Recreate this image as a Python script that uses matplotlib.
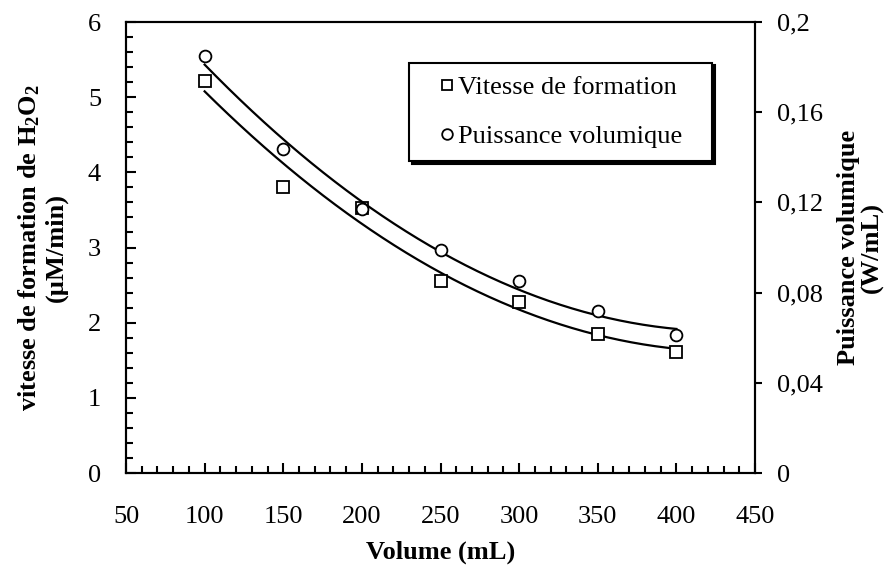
import numpy as np
import matplotlib.pyplot as plt
from matplotlib.ticker import MultipleLocator, FuncFormatter
from matplotlib.legend_handler import HandlerLine2D
from matplotlib.lines import Line2D

plt.rcParams['font.family'] = 'Liberation Serif'
plt.rcParams['mathtext.fontset'] = 'custom'
plt.rcParams['mathtext.rm'] = 'Liberation Serif'
plt.rcParams['mathtext.bf'] = 'Liberation Serif:bold'

# data
volume = [100, 150, 200, 250, 300, 350, 400]
vitesse = [5.22, 3.80, 3.53, 2.55, 2.28, 1.85, 1.61]          # µM/min (left axis)
puissance = [0.185, 0.1435, 0.117, 0.099, 0.085, 0.072, 0.061]  # W/mL (right axis)

fig = plt.figure(figsize=(8.93, 5.66), dpi=100)
ax = fig.add_axes([0.1411, 0.1643, 0.7044, 0.7968])
ax2 = ax.twinx()

# second order trend lines (like the spreadsheet ones)
xs = np.linspace(min(volume), max(volume), 200)
fit1 = np.polyfit(volume, vitesse, 2)
fit2 = np.polyfit(volume, puissance, 2)
ax.plot(xs, np.polyval(fit1, xs), color='black', lw=1.6)
ax2.plot(xs, np.polyval(fit2, xs), color='black', lw=1.6)

h1, = ax.plot(volume, vitesse, 's', ms=8.5, mfc='white', mec='black', mew=1.3, ls='none',
              label='Vitesse de formation')
h2, = ax2.plot(volume, puissance, 'o', ms=8.5, mfc='white', mec='black', mew=1.3, ls='none',
               label='Puissance volumique')

ax.set_xlim(50, 450)
ax.set_ylim(0, 6)
ax2.set_ylim(0, 0.2)

ax.xaxis.set_major_locator(MultipleLocator(50))
ax.xaxis.set_minor_locator(MultipleLocator(10))
ax.yaxis.set_major_locator(MultipleLocator(1))
ax.yaxis.set_minor_locator(MultipleLocator(0.2))
ax2.yaxis.set_major_locator(MultipleLocator(0.04))
ax2.yaxis.set_major_formatter(FuncFormatter(lambda v, p: ('%g' % round(v, 2)).replace('.', ',')))

fs = 19
ax.tick_params(axis='x', which='both', direction='in', top=False, labelsize=fs, pad=24)
ax.tick_params(axis='x', which='major', length=7, width=1.5)
ax.tick_params(axis='x', which='minor', length=5, width=1.5)
ax.tick_params(axis='y', which='both', direction='in', right=False, labelsize=fs, pad=18)
ax.tick_params(axis='y', which='major', length=7, width=1.5)
ax.tick_params(axis='y', which='minor', length=5, width=1.5)
ax2.tick_params(axis='y', which='major', direction='out', length=5, width=1.5, labelsize=fs, pad=11)

for a in (ax, ax2):
    for s in a.spines.values():
        s.set_linewidth(1.5)

ax.set_xlabel('Volume (mL)', fontsize=fs, fontweight='bold', labelpad=9)
ax.set_ylabel('vitesse de formation de $\\mathbf{H_2O_2}$\n(µM/min)', fontsize=fs,
              fontweight='bold', labelpad=14, linespacing=1.15)
ax2.set_ylabel('Puissance volumique\n(W/mL)', fontsize=fs, fontweight='bold',
               rotation=90, labelpad=10, linespacing=1.0)

leg = ax.legend(handles=[h1, h2], loc='upper left', bbox_to_anchor=(0.45, 0.703, 0.482, 0.207),
                mode='expand', fontsize=fs, frameon=True, fancybox=False, edgecolor='black',
                shadow={'color': 'black', 'alpha': 1}, handlelength=1.0,
                handletextpad=0.35, borderpad=0.5, labelspacing=0.95, markerscale=0.9,
                borderaxespad=0, handler_map={Line2D: HandlerLine2D(xpad=0.9)})
leg.get_frame().set_linewidth(1.5)

fig.savefig('out.png', dpi=100)
